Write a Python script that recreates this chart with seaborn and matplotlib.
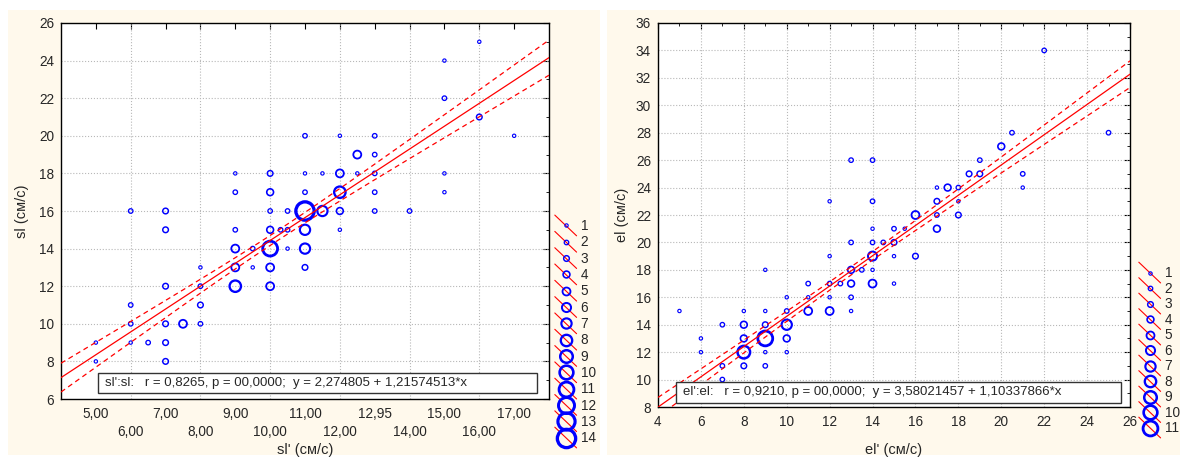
import numpy as np
import pandas as pd
import seaborn as sns
import matplotlib.pyplot as plt
from matplotlib.lines import Line2D
from matplotlib.patches import Rectangle
from matplotlib.legend_handler import HandlerBase

# ---- left panel: sl' vs sl (x, y, number of coinciding cases)
sl_x = [5, 5, 6, 6, 6, 6, 6.5, 7, 7, 7, 7, 7, 7, 7.5, 8, 8, 8, 8,
        9, 9, 9, 9, 9, 9, 9.5, 9.5, 10, 10, 10, 10, 10, 10, 10, 10.3,
        10.5, 10.5, 10.5, 11, 11, 11, 11, 11, 11, 11, 11.5, 11.5,
        12, 12, 12, 12, 12, 12.5, 12.5, 13, 13, 13, 13, 13, 14,
        15, 15, 15, 15, 16, 16, 17]
sl_y = [8, 9, 9, 10, 11, 16, 9, 8, 9, 10, 12, 15, 16, 10, 10, 11, 12, 13,
        12, 13, 14, 15, 17, 18, 13, 14, 12, 13, 14, 15, 16, 17, 18, 15,
        14, 15, 16, 13, 14, 15, 16, 17, 18, 20, 16, 18,
        15, 16, 17, 18, 20, 18, 19, 16, 17, 18, 19, 20, 16,
        17, 18, 22, 24, 21, 25, 20]
sl_n = [1, 1, 1, 2, 2, 2, 2, 3, 3, 3, 3, 3, 3, 5, 2, 3, 2, 1,
        8, 5, 5, 2, 2, 1, 1, 2, 5, 5, 11, 4, 2, 4, 3, 2,
        1, 2, 2, 3, 7, 7, 14, 2, 1, 2, 7, 1,
        1, 4, 8, 5, 1, 1, 5, 2, 2, 2, 2, 2, 2,
        1, 1, 2, 1, 3, 1, 1]
sl_fit = [2.274805, 1.21574513]   # intercept, slope
sl_r = 0.8265
sl_xticks = [5, 6, 7, 8, 9, 10, 11, 12, 13, 14, 15, 16, 17]
sl_xlabels = ["5,00", "6,00", "7,00", "8,00", "9,00", "10,00", "11,00",
              "12,00", "12,95", "14,00", "15,00", "16,00", "17,00"]

# ---- right panel: el' vs el
el_x = [5, 6, 6, 7, 7, 7, 8, 8, 8, 8, 8, 9, 9, 9, 9, 9, 9,
        10, 10, 10, 10, 10, 11, 11, 11, 12, 12, 12, 12, 12, 12.5,
        13, 13, 13, 13, 13, 13, 13.5, 14, 14, 14, 14, 14, 14, 14, 14.5,
        15, 15, 15, 15, 15.5, 16, 16, 17, 17, 17, 17, 17.5, 18, 18, 18,
        18.5, 19, 19, 20, 20.5, 21, 21, 22, 25]
el_y = [15, 12, 13, 10, 11, 14, 11, 12, 13, 14, 15, 11, 12, 13, 14, 15, 18,
        12, 13, 14, 15, 16, 15, 16, 17, 15, 16, 17, 19, 23, 17,
        15, 16, 17, 18, 20, 26, 18, 17, 18, 19, 20, 21, 23, 26, 20,
        17, 19, 20, 21, 21, 19, 22, 21, 22, 23, 24, 24, 22, 23, 24,
        25, 25, 26, 27, 28, 24, 25, 34, 28]
el_n = [1, 1, 1, 2, 2, 2, 3, 9, 4, 4, 1, 2, 1, 11, 3, 1, 1,
        1, 4, 7, 2, 1, 5, 1, 2, 5, 1, 2, 1, 1, 2,
        1, 2, 4, 4, 2, 2, 2, 5, 1, 6, 2, 1, 2, 2, 2,
        1, 1, 3, 2, 1, 3, 5, 4, 2, 3, 1, 4, 3, 1, 2,
        3, 3, 2, 4, 2, 1, 2, 2, 2]
el_fit = [3.58021457, 1.10337866]
el_r = 0.9210
el_xticks = list(range(4, 27, 2))
el_xlabels = [str(v) for v in el_xticks]

T95 = 1.97
BLUE = "#0000ff"
CREAM = "#fff9ec"

sns.set_style("white")
plt.rcParams["font.family"] = ["Liberation Sans", "DejaVu Sans"]


def diam(n):
    return (2.2 + 1.15 * n) * 0.72   # marker diameter in points


def edge(n):
    return 0.7 + 0.12 * n


def comma(v):
    return str(v).replace(".", ",")


class DiagHandler(HandlerBase):
    def create_artists(self, legend, orig_handle, xdescent, ydescent,
                       width, height, fontsize, trans):
        x0, x1 = -xdescent, -xdescent + width
        y0, y1 = -ydescent, -ydescent + height
        ln = Line2D([x0, x1], [y1 + 0.35 * height, y0 - 0.35 * height],
                    color="red", lw=0.8, transform=trans)
        mk = Line2D([(x0 + x1) / 2], [(y0 + y1) / 2], marker="o", ls="none",
                    ms=orig_handle.get_markersize(), mfc="none", mec=BLUE,
                    mew=orig_handle.get_markeredgewidth(), transform=trans)
        return [ln, mk]


def panel(ax, xs, ys, ns, fit, r, xlim, ylim, name, xlab, ylab):
    df = pd.DataFrame({"x": xs, "y": ys, "n": ns})
    sizes = {k: diam(k) ** 2 for k in sorted(set(ns))}
    sns.scatterplot(data=df, x="x", y="y", size="n", sizes=sizes, ax=ax,
                    facecolors="none", edgecolor=BLUE,
                    linewidth=[edge(k) for k in ns], legend=False, zorder=3)

    # regression line and 95% bands for the mean
    xr = np.repeat(df["x"].values, df["n"].values)
    yr = np.repeat(df["y"].values, df["n"].values)
    a, b = fit
    s = np.sqrt(np.sum((yr - a - b * xr) ** 2) / (len(xr) - 2))
    sxx = np.sum((xr - xr.mean()) ** 2)
    xg = np.linspace(xlim[0], xlim[1], 200)
    yg = a + b * xg
    hw = T95 * s * np.sqrt(1 / len(xr) + (xg - xr.mean()) ** 2 / sxx)
    ax.plot(xg, yg, color="red", lw=0.9, zorder=4)
    ax.plot(xg, yg + hw, color="red", lw=0.9, ls=(0, (4, 3)), zorder=4)
    ax.plot(xg, yg - hw, color="red", lw=0.9, ls=(0, (4, 3)), zorder=4)

    ax.set_xlim(*xlim)
    ax.set_ylim(*ylim)
    ax.set_facecolor("white")
    ax.set_xlabel(xlab, fontsize=10.5)
    ax.set_ylabel(ylab, fontsize=10.5)
    for sp in ax.spines.values():
        sp.set_color("black")
        sp.set_linewidth(1.0)
    ax.tick_params(which="both", direction="in", top=True, right=True,
                   color="black", labelsize=9.8, pad=5)
    ax.tick_params(which="major", length=4)
    ax.tick_params(which="minor", length=2.5)

    txt = "{}   r = {}, p = 00,0000;  y = {} + {}*x".format(
        name, f"{r:.4f}".replace(".", ","), comma(a), comma(b))
    return txt


fig = plt.figure(figsize=(11.8, 4.61), dpi=100)
fig.patch.set_facecolor("white")
fig.patches.append(Rectangle((8 / 1180, 6 / 461), 592 / 1180, 445 / 461,
                             transform=fig.transFigure, fc=CREAM, ec="none",
                             zorder=-10))
fig.patches.append(Rectangle((607 / 1180, 6 / 461), 573 / 1180, 445 / 461,
                             transform=fig.transFigure, fc=CREAM, ec="none",
                             zorder=-10))

# left
ax1 = fig.add_axes([61 / 1180, 62 / 461, 488 / 1180, 376 / 461])
t1 = panel(ax1, sl_x, sl_y, sl_n, sl_fit, sl_r, (4, 18), (6, 26),
           "sl':sl:", "sl' (см/с)", "sl (см/с)")
ax1.set_xticks(sl_xticks)
ax1.set_xticklabels([lab if i % 2 == 0 else "\n" + lab
                     for i, lab in enumerate(sl_xlabels)], linespacing=1.3)
ax1.set_yticks(range(6, 27, 2))
ax1.set_yticks(range(7, 26, 2), minor=True)
ax1.tick_params(axis="x", pad=6)
for v in range(6, 18, 2):
    ax1.axvline(v, color="#b8b8b8", lw=0.8, ls=":", zorder=1)
for v in range(8, 26, 2):
    ax1.axhline(v, color="#b8b8b8", lw=0.8, ls=":", zorder=1)
ax1.xaxis.set_label_coords(0.5, -0.118)
ax1.yaxis.set_label_coords(-0.066, 0.5)
ax1.add_patch(Rectangle((0.076, 0.016), 0.899, 0.053, transform=ax1.transAxes,
                        fc="white", ec="#333333", lw=1, zorder=5))
ax1.text(0.09, 0.043, t1, transform=ax1.transAxes, fontsize=9.5,
         va="center", ha="left", zorder=6)

# right
ax2 = fig.add_axes([658 / 1180, 54 / 461, 472 / 1180, 384 / 461])
t2 = panel(ax2, el_x, el_y, el_n, el_fit, el_r, (4, 26), (8, 36),
           "el':el:", "el' (см/с)", "el (см/с)")
ax2.set_xticks(el_xticks)
ax2.set_xticklabels(el_xlabels)
ax2.set_xticks(range(5, 26, 2), minor=True)
ax2.set_yticks(range(8, 37, 2))
ax2.set_yticks(range(9, 36, 2), minor=True)
ax2.tick_params(axis="x", pad=6)
for v in range(6, 26, 2):
    ax2.axvline(v, color="#b8b8b8", lw=0.8, ls=":", zorder=1)
for v in range(10, 36, 2):
    ax2.axhline(v, color="#b8b8b8", lw=0.8, ls=":", zorder=1)
ax2.xaxis.set_label_coords(0.5, -0.095)
ax2.yaxis.set_label_coords(-0.062, 0.5)
ax2.add_patch(Rectangle((0.038, 0.0104), 0.943, 0.055, transform=ax2.transAxes,
                        fc="white", ec="#333333", lw=1, zorder=5))
ax2.text(0.053, 0.038, t2, transform=ax2.transAxes, fontsize=9.5,
         va="center", ha="left", zorder=6)

# size legends
for ax, kmax, anchor, spacing in [(ax1, 14, (548 / 1180, 9 / 461), 0.17),
                                  (ax2, 11, (1132 / 1180, 19 / 461), 0.11)]:
    handles = [Line2D([], [], marker="o", ms=diam(k), mew=edge(k), ls="none")
               for k in range(1, kmax + 1)]
    fig.legend(handles, [str(k) for k in range(1, kmax + 1)],
               handler_map={Line2D: DiagHandler()}, loc="lower left",
               bbox_to_anchor=anchor, bbox_transform=fig.transFigure,
               frameon=False, fontsize=9.8, handlelength=1.6, handleheight=1.0,
               handletextpad=0.3, labelspacing=spacing, borderpad=0)

fig.savefig("out.png", dpi=100)
